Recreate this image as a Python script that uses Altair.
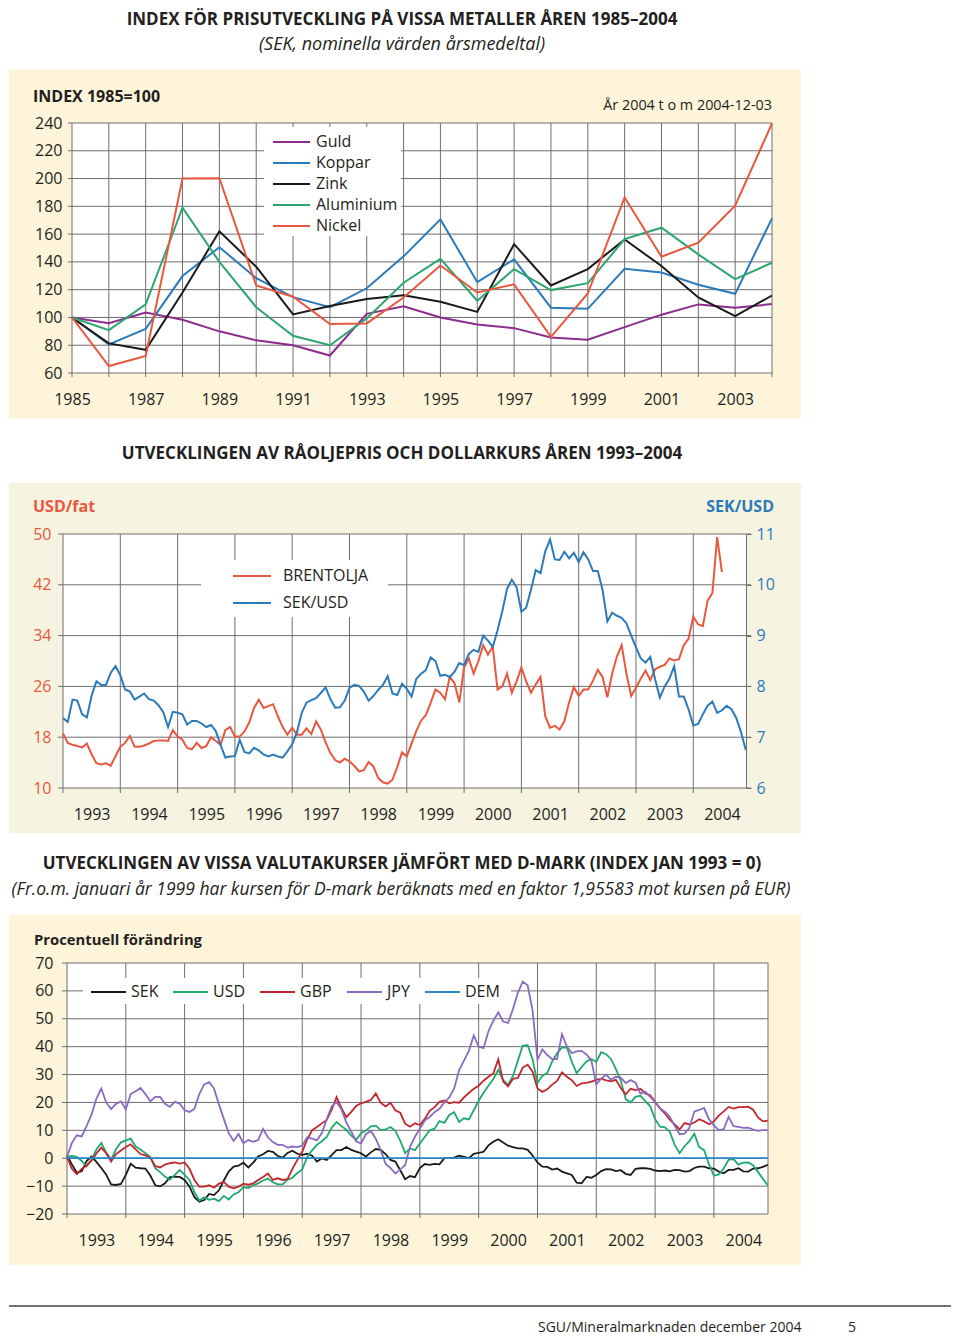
import altair as alt
import pandas as pd

FONT = "Open Sans"
TXT = "#231f20"
GRID = "#6e6e6e"
BEIGE = "#fdf4da"
BEIGE2 = "#f6f3e0"

# ---------------- Panel 1: metal price index ----------------
years_metal = list(range(1985, 2005))
guld = [100, 95.9, 103.6, 98.3, 90, 83.5, 80, 72.6, 102.6, 108, 100, 95, 92.3, 85.6, 84, 93, 102, 109.4, 107, 109.6]
koppar = [100, 80.6, 91.8, 129.8, 150.6, 128.3, 114.6, 107.4, 121, 144, 170.6, 125.4, 141.8, 107, 106.2, 135, 132.4, 123.5, 117, 171.3]
zink = [100, 81.3, 76.7, 118, 162, 136.5, 102.2, 108.2, 113.2, 116, 111.3, 104, 152.8, 123, 134.8, 156.2, 137, 114.4, 101, 115.8]
aluminium = [100, 90.9, 109.4, 179, 140, 107.4, 86.8, 80, 99.3, 125, 142.2, 112, 134.8, 119.7, 124.7, 156.4, 164.6, 145.4, 127.6, 139.4]
nickel = [100, 65, 72.2, 200, 200.3, 123, 114.9, 95.2, 95.7, 114.4, 137.4, 118, 123.8, 86, 117.3, 186.4, 143.7, 153.8, 180.4, 239.7]
metal_names = ["Guld", "Koppar", "Zink", "Aluminium", "Nickel"]
metal_colors = ["#8e2b8f", "#2b7bba", "#1a1a1a", "#2ea56f", "#e8583f"]
metal_y_ticks = list(range(60, 241, 20))
metal_x_labels = list(range(1985, 2004, 2))

# ---------------- Panel 2: Brent oil and SEK/USD (monthly from Jan 1993) ----------------
brent = [18.6, 17.1, 16.8, 16.6, 16.4, 17.0, 15.3, 13.9, 13.7, 13.9, 13.5, 15.0,
         16.5, 17.1, 18.2, 16.5, 16.5, 16.7, 17.0, 17.4, 17.5, 17.5, 17.4, 19.1,
         18.1, 17.6, 16.3, 16.1, 17.1, 16.3, 16.6, 18.0, 17.4, 16.8, 19.1, 19.6,
         18.1, 18.1, 18.9, 20.3, 22.6, 23.9, 22.6, 22.9, 23.2, 21.3, 19.6, 18.4,
         19.5, 18.4, 18.4, 19.4, 18.5, 20.5, 19.2, 17.2, 15.5, 14.4, 14.0, 14.6,
         14.2, 13.5, 12.6, 12.8, 14.1, 13.4, 11.6, 10.9, 10.7, 11.3, 13.3, 15.6,
         15.0, 17.0, 19.0, 20.6, 21.5, 23.4, 25.5, 25.0, 24.0, 27.5, 26.5, 23.5,
         29.0, 30.4, 28.0, 30.0, 32.5, 31.0, 32.3, 25.5, 26.0, 28.0, 25.0, 26.8,
         29.0, 26.8, 25.0, 26.3, 27.5, 21.3, 19.5, 19.8, 19.2, 20.5, 23.5, 25.9,
         24.5, 25.5, 25.5, 26.9, 28.6, 27.5, 24.3, 28.0, 30.7, 32.5, 28.0, 24.5,
         25.8, 27.2, 28.5, 27.0, 28.7, 29.1, 29.4, 30.4, 30.1, 30.3, 32.5, 33.5,
         37.0, 35.8, 35.5, 39.5, 40.7, 49.5, 44.0]
sek_usd = [7.38, 7.30, 7.74, 7.72, 7.45, 7.39, 7.82, 8.10, 8.03, 8.03, 8.27, 8.40,
           8.22, 7.94, 7.90, 7.74, 7.80, 7.86, 7.75, 7.72, 7.63, 7.49, 7.20, 7.50,
           7.48, 7.45, 7.25, 7.32, 7.32, 7.27, 7.20, 7.24, 7.12, 6.85, 6.60, 6.62,
           6.63, 6.95, 6.71, 6.68, 6.79, 6.74, 6.66, 6.62, 6.66, 6.62, 6.60, 6.72,
           6.86, 7.10, 7.48, 7.68, 7.73, 7.77, 7.87, 7.98, 7.75, 7.58, 7.59, 7.72,
           7.97, 8.03, 8.01, 7.90, 7.72, 7.81, 7.93, 8.03, 8.20, 7.86, 7.83, 8.05,
           7.95, 7.80, 8.15, 8.25, 8.32, 8.57, 8.50, 8.21, 8.23, 8.18, 8.29, 8.46,
           8.42, 8.64, 8.72, 8.68, 9.00, 8.90, 8.78, 9.10, 9.48, 9.92, 10.10, 9.95,
           9.47, 9.55, 9.90, 10.29, 10.23, 10.66, 10.89, 10.50, 10.49, 10.65, 10.52, 10.63,
           10.45, 10.64, 10.50, 10.27, 10.27, 9.90, 9.28, 9.45, 9.39, 9.35, 9.24, 9.00,
           8.77, 8.55, 8.47, 8.58, 8.14, 7.78, 8.00, 8.15, 8.40, 7.80, 7.80, 7.55,
           7.23, 7.26, 7.45, 7.62, 7.70, 7.48, 7.53, 7.62, 7.55, 7.38, 7.10, 6.75]
oil_names = ["BRENTOLJA", "SEK/USD"]
oil_colors = ["#e8583f", "#2b7bba"]
oil_left_ticks = [10, 18, 26, 34, 42, 50]
oil_right_ticks = [6, 7, 8, 9, 10, 11]

# ---------------- Panel 3: currencies vs DEM (monthly from Jan 1993) ----------------
sek = [1.0, -2.2, -5.2, -4.7, -1.0, 0.6, -1.3, -3.5, -5.9, -9.4, -9.6, -9.2,
       -6.0, -2.0, -3.4, -3.6, -3.7, -6.2, -9.7, -10.1, -9.0, -6.8, -6.6, -6.7,
       -7.8, -10.2, -14.0, -15.6, -15.0, -12.8, -13.2, -11.5, -8.0, -4.8, -3.0, -2.7,
       -1.6, -3.3, -1.6, 0.6, 1.4, 2.6, 2.3, 0.8, 0.2, 1.9, 2.7, 1.6,
       1.2, 1.6, 0.9, -1.2, -0.1, -0.6, 1.1, 2.9, 2.9, 4.0, 3.0, 2.4,
       1.8, 0.6, 2.1, 3.3, 3.0, 1.5, -0.6, -1.2, -4.3, -7.5, -6.4, -6.8,
       -3.5, -2.1, -2.4, -2.0, -2.2, 0.0, 0.0, 0.2, 0.9, 0.5, 0.0, 1.6,
       1.9, 2.3, 4.6, 5.9, 6.8, 5.6, 4.5, 4.0, 3.5, 3.5, 3.0, 1.0,
       -1.5, -3.0, -3.1, -4.1, -3.7, -4.8, -5.4, -6.0, -8.8, -9.0, -6.7, -7.0,
       -6.0, -4.6, -3.9, -4.0, -4.6, -4.3, -5.6, -6.0, -3.8, -3.6, -3.6, -3.8,
       -4.4, -4.6, -4.4, -4.7, -4.2, -4.3, -4.8, -4.6, -3.5, -3.0, -3.0, -3.6,
       -3.7, -4.8, -5.4, -4.2, -4.2, -3.6, -4.7, -4.8, -3.7, -3.6, -3.1, -2.4]
usd = [0.5, 0.8, 0.5, -1.0, -2.9, -0.6, 3.1, 5.5, 2.0, -0.5, 3.2, 5.7,
       6.4, 7.0, 4.2, 3.1, 1.8, 0.4, -3.6, -5.0, -6.6, -7.7, -6.0, -4.2,
       -6.0, -7.8, -12.2, -15.2, -14.0, -14.9, -14.5, -15.4, -13.5, -14.8, -13.0, -12.2,
       -10.4, -10.7, -9.7, -9.0, -8.0, -7.3, -8.6, -9.4, -9.4, -7.7, -7.0, -5.3,
       -4.0, 0.4, 2.8, 4.8, 6.1, 7.6, 10.9, 13.0, 11.5, 10.2, 8.1, 6.6,
       9.0, 9.9, 11.4, 11.7, 10.1, 10.3, 11.2, 9.8, 6.3, 1.8, 3.5, 2.9,
       5.3, 7.6, 10.0, 10.6, 13.3, 12.7, 15.5, 16.5, 13.0, 14.3, 13.9, 17.2,
       20.6, 23.5, 26.0, 28.4, 31.7, 28.0, 26.3, 29.5, 35.0, 40.4, 40.5, 35.5,
       27.0, 29.6, 30.5, 34.7, 37.6, 39.7, 39.7, 34.6, 30.5, 32.7, 34.7, 35.6,
       34.5, 38.0, 37.3, 35.6, 32.0, 27.8, 21.2, 20.0, 22.0, 22.4, 20.5, 18.6,
       14.0, 11.3, 11.1, 9.5, 4.8, 1.8, 4.3, 6.1, 8.8, 4.0, 2.9, -2.2,
       -6.3, -5.8, -3.7, -0.6, -0.3, -2.3, -1.6, -1.5, -2.5, -4.9, -7.4, -9.7]
gbp = [0.5, -3.8, -5.7, -3.8, -2.6, -0.9, 1.7, 3.8, 1.8, -1.2, 1.5, 2.8,
       4.0, 5.0, 3.2, 1.5, 1.0, 0.2, -2.8, -3.3, -2.3, -1.8, -1.5, -1.9,
       -1.5, -3.8, -7.8, -10.2, -10.2, -9.7, -10.6, -9.1, -8.5, -10.2, -10.8, -10.2,
       -9.1, -9.5, -9.0, -7.8, -6.7, -5.5, -7.8, -7.2, -7.8, -7.5, -3.8, -0.6,
       2.3, 6.7, 10.0, 11.2, 12.5, 13.7, 17.3, 21.9, 18.0, 14.7, 16.6, 18.7,
       19.7, 20.2, 20.9, 23.2, 19.9, 18.6, 19.9, 17.2, 16.3, 12.4, 11.3, 12.5,
       11.9, 14.1, 17.0, 18.3, 20.2, 20.7, 19.7, 20.1, 19.9, 21.8, 23.4, 24.9,
       26.0, 27.8, 29.2, 30.4, 35.5, 27.5, 25.8, 28.5, 28.8, 32.5, 33.5, 31.0,
       25.0, 23.8, 24.7, 26.4, 27.7, 30.8, 29.2, 28.0, 25.9, 26.8, 27.0, 27.5,
       28.1, 28.5, 27.9, 27.6, 28.1, 25.2, 22.9, 24.9, 24.4, 24.9, 23.2, 22.6,
       20.2, 17.9, 16.1, 13.8, 12.1, 10.3, 12.6, 12.1, 12.8, 14.0, 13.2, 12.2,
       13.2, 15.3, 16.8, 18.4, 17.8, 18.3, 18.3, 18.5, 17.4, 14.6, 13.2, 13.5]
jpy = [0.5, 5.5, 8.2, 7.8, 11.5, 15.6, 21.4, 25.0, 20.0, 17.6, 19.5, 20.4,
       17.5, 23.0, 24.0, 25.2, 23.0, 20.4, 22.0, 22.0, 19.5, 18.4, 20.2, 19.6,
       17.2, 16.6, 17.7, 23.0, 26.5, 27.3, 25.0, 19.3, 14.1, 9.0, 6.2, 8.7,
       5.4, 6.5, 5.9, 6.5, 10.5, 7.5, 5.8, 4.8, 4.8, 3.8, 4.2, 4.0,
       4.5, 7.5, 7.0, 6.4, 9.0, 14.0, 18.5, 20.2, 17.5, 12.8, 9.6, 6.0,
       5.3, 8.6, 9.8, 7.0, 3.0, -2.0, -3.5, -5.5, -4.0, -2.5, 4.2, 7.7,
       10.6, 13.5, 14.8, 16.5, 17.7, 20.0, 21.8, 25.0, 31.5, 35.0, 38.5, 44.0,
       40.0, 39.5, 45.5, 49.3, 52.3, 49.0, 48.5, 53.5, 59.3, 63.3, 62.0, 53.0,
       35.3, 39.0, 37.0, 35.5, 35.5, 44.5, 40.0, 37.7, 38.3, 38.5, 37.2, 35.0,
       26.5, 28.5, 30.0, 28.2, 29.2, 28.9, 26.9, 28.0, 27.1, 23.2, 23.8, 22.0,
       20.2, 17.9, 16.7, 14.9, 11.6, 8.6, 8.8, 10.9, 16.7, 17.3, 18.0, 14.0,
       11.8, 10.1, 10.4, 14.8, 11.5, 11.2, 10.9, 11.0, 10.3, 9.8, 10.1, 10.1]
dem = [0.0] * 144
fx_names = ["SEK", "USD", "GBP", "JPY", "DEM"]
fx_colors = ["#1a1a1a", "#1fa96e", "#c1272d", "#8a6bbf", "#2a88c9"]
fx_y_ticks = list(range(-20, 71, 10))

year_lines = list(range(1993, 2005))
year_label_pos = [y + 0.5 for y in year_lines]
X_START, X_END = 1993, 2004.92


def month_pos(n):
    return [X_START + i / 12 for i in range(n)]


one = pd.DataFrame({"k": [0]})


def prect(x, x2, y, y2, color):
    return alt.Chart(one).mark_rect(color=color).encode(
        x=alt.value(x), x2=alt.value(x2), y=alt.value(y), y2=alt.value(y2))


def ptext(text, x, y, size=16, weight="normal", style="normal", color=TXT, align="left"):
    return alt.Chart(one).mark_text(
        text=text, font=FONT, fontSize=size, fontWeight=weight, fontStyle=style,
        color=color, align=align, baseline="middle").encode(x=alt.value(x), y=alt.value(y))


def xaxis(values, expr=None, pad=18):
    kw = dict(values=values, grid=False, domain=False, ticks=False, labelFont=FONT,
              labelFontSize=16, labelColor=TXT, labelPadding=pad, labelFlush=False,
              labelOverlap=False, zindex=1, title=None)
    if expr:
        kw["labelExpr"] = expr
    else:
        kw["format"] = "d"
    return alt.Axis(**kw)


def yaxis(values, pad, color=TXT, orient="left", domain=False):
    kw = dict(values=values, grid=False, domain=domain, ticks=False, labelFont=FONT,
              labelFontSize=16, labelColor=color, labelPadding=pad, labelFlush=False,
              labelOverlap=False, zindex=1, title=None, orient=orient)
    if domain:
        kw["domainColor"] = GRID
        kw["ticks"] = True
        kw["tickColor"] = GRID
        kw["tickSize"] = 5
    return alt.Axis(**kw)


def legend(x, y, path, offset, direction="vertical", row_pad=0, col_pad=0):
    return alt.Legend(title=None, orient="none", legendX=x, legendY=y, direction=direction,
                      symbolType=path, symbolSize=100, symbolStrokeWidth=2,
                      labelFont=FONT, labelFontSize=16, labelColor=TXT, labelOffset=offset,
                      rowPadding=row_pad, columnPadding=col_pad, padding=0)


# All three panels share the same left origin; panels 2 and 3 place their
# plotting range slightly left of it through the scale range.

# ================= Panel 1 =================
W1, H1 = 700, 250
xs1 = alt.Scale(domain=[1985, 2004], nice=False, zero=False)
ys1 = alt.Scale(domain=[60, 240], nice=False, zero=False)
ax1x = xaxis(metal_x_labels)
ax1y = yaxis(metal_y_ticks, 10)
metal_df = pd.DataFrame({
    "year": years_metal * 5,
    "value": guld + koppar + zink + aluminium + nickel,
    "metal": [n for n in metal_names for _ in years_metal],
})
p1 = alt.layer(
    prect(-63, 870, -115, 318, "white"),
    prect(-63, 729, -54, 296, BEIGE),
    prect(0, W1, 0, H1, "white"),
    alt.Chart(pd.DataFrame({"year": years_metal})).mark_rule(color=GRID, strokeWidth=1).encode(
        x=alt.X("year:Q", scale=xs1, axis=ax1x), y=alt.value(0), y2=alt.value(H1 + 4)),
    alt.Chart(pd.DataFrame({"value": metal_y_ticks})).mark_rule(color=GRID, strokeWidth=1).encode(
        y=alt.Y("value:Q", scale=ys1, axis=ax1y), x=alt.value(-4), x2=alt.value(W1)),
    prect(192, 329, 4, 113, "white"),
    alt.Chart(metal_df).mark_line(strokeWidth=2).encode(
        x=alt.X("year:Q", scale=xs1, axis=ax1x),
        y=alt.Y("value:Q", scale=ys1, axis=ax1y),
        color=alt.Color("metal:N", scale=alt.Scale(domain=metal_names, range=metal_colors),
                        legend=legend(211.5, 11, "M-3.7,0H3.7", 16.5, row_pad=5)),
        detail="metal:N"),
    ptext("INDEX FÖR PRISUTVECKLING PÅ VISSA METALLER ÅREN 1985–2004", 330, -103, 17, "bold", align="center"),
    ptext("(SEK, nominella värden årsmedeltal)", 330, -78, 18, style="italic", align="center"),
    ptext("INDEX  1985=100", -39, -26, 16, "bold"),
    ptext("År 2004 t o m 2004-12-03", 700, -17, 14.4, align="right"),
).properties(width=W1, height=H1)

# ================= Panel 2 =================
W2, H2 = 674, 254
xs2 = alt.Scale(domain=[X_START, X_END], range=[-9, W2], nice=False, zero=False)
ysL = alt.Scale(domain=[10, 50], nice=False, zero=False)
ysR = alt.Scale(domain=[6, 11], nice=False, zero=False)
ax2x = xaxis(year_label_pos, "'' + floor(datum.value)")
oil_color = alt.Color("series:N", scale=alt.Scale(domain=oil_names, range=oil_colors),
                      legend=legend(172, 34, "M-3.8,0H3.8", 23, row_pad=11))
brent_df = pd.DataFrame({"t": month_pos(len(brent)), "v": brent, "series": oil_names[0]})
sek_df = pd.DataFrame({"t": month_pos(len(sek_usd)), "v": sek_usd, "series": oil_names[1]})
p2 = alt.layer(
    prect(-63, 861, -93, 309, "white"),
    prect(-63, 729, -51, 299, BEIGE2),
    prect(-9, W2, 0, H2, "white"),
    alt.Chart(pd.DataFrame({"t": year_lines})).mark_rule(color=GRID, strokeWidth=1).encode(
        x=alt.X("t:Q", scale=xs2, axis=ax2x), y=alt.value(0), y2=alt.value(H2 + 5)),
    alt.Chart(pd.DataFrame({"g": oil_left_ticks})).mark_rule(color=GRID, strokeWidth=1).encode(
        y=alt.Y("g:Q", scale=ysL, axis=None), x=alt.value(-14), x2=alt.value(W2 + 5)),
    prect(129, 316, 26, 83, "white"),
    alt.Chart(brent_df).mark_line(strokeWidth=2).encode(
        x=alt.X("t:Q", scale=xs2, axis=ax2x),
        y=alt.Y("v:Q", scale=ysL, axis=yaxis(oil_left_ticks, 21, "#e8583f")),
        color=oil_color),
    alt.Chart(sek_df).mark_line(strokeWidth=2).encode(
        x=alt.X("t:Q", scale=xs2, axis=ax2x),
        y=alt.Y("v:Q", scale=ysR, axis=yaxis(oil_right_ticks, 5, "#2b7bba", "right", True)),
        color=oil_color),
    ptext("UTVECKLINGEN AV RÅOLJEPRIS OCH DOLLARKURS ÅREN 1993–2004", 330, -80, 17, "bold", align="center"),
    ptext("USD/fat", -39, -27, 16, "bold", color="#e8583f"),
    ptext("SEK/USD", 702, -27, 16, "bold", color="#2b7bba", align="right"),
).resolve_scale(y="independent").properties(width=W2, height=H2)

# ================= Panel 3 =================
W3, H3 = 696, 251
xs3 = alt.Scale(domain=[X_START, X_END], range=[-5, W3], nice=False, zero=False)
ys3 = alt.Scale(domain=[-20, 70], nice=False, zero=False)
ax3x = xaxis(year_label_pos, "'' + floor(datum.value)")
ax3y = yaxis(fx_y_ticks, 19)
fx_series = [sek, usd, gbp, jpy, dem]
fx_df = pd.DataFrame({
    "t": [t for s in fx_series for t in month_pos(len(s))],
    "v": [v for s in fx_series for v in s],
    "cur": [n for n, s in zip(fx_names, fx_series) for _ in s],
})
p3 = alt.layer(
    prect(-63, 879, -120, 375, "white"),
    prect(-63, 729, -48, 302, BEIGE),
    prect(-5, W3, 0, H3, "white"),
    alt.Chart(pd.DataFrame({"t": year_lines})).mark_rule(color=GRID, strokeWidth=1).encode(
        x=alt.X("t:Q", scale=xs3, axis=ax3x), y=alt.value(0), y2=alt.value(H3 + 4)),
    alt.Chart(one).mark_rule(color=GRID, strokeWidth=1).encode(
        x=alt.value(W3), y=alt.value(0), y2=alt.value(H3)),
    alt.Chart(pd.DataFrame({"v": fx_y_ticks})).mark_rule(color=GRID, strokeWidth=1).encode(
        y=alt.Y("v:Q", scale=ys3, axis=ax3y), x=alt.value(-10), x2=alt.value(W3)),
    prect(11, 439, 15, 41, "white"),
    alt.Chart(fx_df).mark_line(strokeWidth=1.8).encode(
        x=alt.X("t:Q", scale=xs3, axis=ax3x),
        y=alt.Y("v:Q", scale=ys3, axis=ax3y),
        color=alt.Color("cur:N", scale=alt.Scale(domain=fx_names, range=fx_colors),
                        legend=legend(28.5, 21, "M-3.5,0H3.5", 14.5, "horizontal", col_pad=10)),
        detail="cur:N"),
    ptext("UTVECKLINGEN AV VISSA VALUTAKURSER JÄMFÖRT MED D-MARK (INDEX JAN 1993 = 0)", 330, -99, 17, "bold", align="center"),
    ptext("(Fr.o.m. januari år 1999 har kursen för D-mark beräknats med en faktor 1,95583 mot kursen på EUR)", 329, -73, 17.5, style="italic", align="center"),
    ptext("Procentuell förändring", -38, -22, 14.8, "bold"),
    alt.Chart(one).mark_rule(color="#444444", strokeWidth=1.3).encode(
        x=alt.value(-63), x2=alt.value(879), y=alt.value(343)),
    ptext("SGU/Mineralmarknaden december 2004", 466, 365, 14),
    ptext("5", 776, 365, 14),
).properties(width=W3, height=H3)

chart = alt.concat(p1, p2, p3, columns=1, spacing=0, align="none").resolve_scale(
    color="independent").resolve_legend(color="independent").properties(
    padding=0, background="white"
).configure_view(strokeWidth=0)

chart.save("out.html", embed_options={"renderer": "svg", "actions": False})
